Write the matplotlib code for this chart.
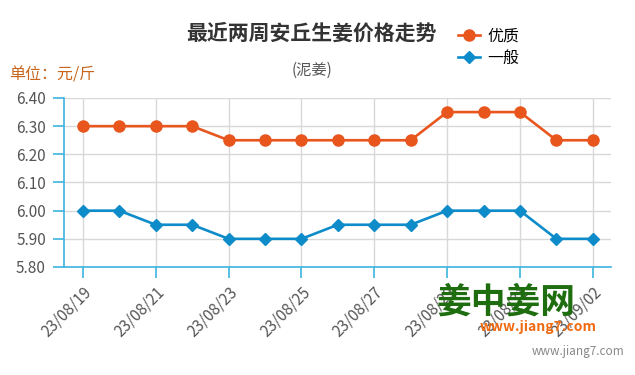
import matplotlib
matplotlib.use('Agg')
import matplotlib.pyplot as plt

plt.rcParams['font.family'] = ['Noto Sans CJK SC', 'DejaVu Sans']

dates = ['23/08/19', '23/08/20', '23/08/21', '23/08/22', '23/08/23', '23/08/24',
         '23/08/25', '23/08/26', '23/08/27', '23/08/28', '23/08/29', '23/08/30',
         '23/08/31', '23/09/01', '23/09/02']
youzhi = [6.30, 6.30, 6.30, 6.30, 6.25, 6.25, 6.25, 6.25, 6.25, 6.25, 6.35, 6.35, 6.35, 6.25, 6.25]
yiban = [6.00, 6.00, 5.95, 5.95, 5.90, 5.90, 5.90, 5.95, 5.95, 5.95, 6.00, 6.00, 6.00, 5.90, 5.90]
yticks = [5.80, 5.90, 6.00, 6.10, 6.20, 6.30, 6.40]

orange = '#e8561e'
blue = '#0d8cc9'
axis_c = '#3cb4e0'

fig = plt.figure(figsize=(6.35, 3.75), dpi=100)
ax = fig.add_axes([64 / 635, 108 / 375, 547 / 635, 169 / 375])

x = list(range(len(dates)))
ax.plot(x, youzhi, color=orange, lw=1.9, marker='o', ms=8, label='优质', zorder=3)
ax.plot(x, yiban, color=blue, lw=1.9, marker='D', ms=6, label='一般', zorder=3)

ax.set_xlim(-0.52, len(dates) - 0.5)
ax.set_ylim(5.80, 6.40)
ax.set_yticks(yticks)
ax.set_yticklabels(['%.2f' % v for v in yticks])
ax.set_xticks(x[::2])
ax.set_xticklabels(dates[::2], rotation=45, ha='right', rotation_mode='anchor')

ax.grid(True, color='#d8d8d8', lw=1)
ax.set_axisbelow(True)
for s in ['top', 'right']:
    ax.spines[s].set_visible(False)
for s in ['left', 'bottom']:
    ax.spines[s].set_color(axis_c)
    ax.spines[s].set_linewidth(1.2)
ax.tick_params(axis='both', colors=axis_c, length=8, width=1.2, labelcolor='#555555', labelsize=11)
ax.tick_params(axis='x', pad=4)
ax.tick_params(axis='y', pad=5)

fig.text(311 / 635, 1 - 33 / 375, '最近两周安丘生姜价格走势', ha='center', va='center',
         fontsize=15, fontweight='bold', color='#333333')
fig.text(312 / 635, 1 - 70 / 375, '(泥姜)', ha='center', va='center', fontsize=11, color='#555555')
fig.text(9 / 635, 1 - 75 / 375, '单位：元/斤', ha='left', va='center', fontsize=11.5, color='#c8651b')

fig.legend(loc='upper left', bbox_to_anchor=(450 / 635, 1 - 20 / 375), frameon=False,
           fontsize=11.5, handlelength=1.4, labelspacing=0.3, borderpad=0, handletextpad=0.45)

# watermark
fig.text(436 / 635, 1 - 302 / 375, '姜中姜网', ha='left', va='center', fontsize=25,
         fontweight='bold', color='#1e6e10')
fig.text(480 / 635, 1 - 327 / 375, 'www.jiang7.com', ha='left', va='center', fontsize=10,
         fontweight='bold', fontstyle='italic', color='#f06a10')
fig.text(624 / 635, 1 - 352 / 375, 'www.jiang7.com', ha='right', va='center', fontsize=8.5, color='#888888')

plt.savefig('out.png', dpi=100)
